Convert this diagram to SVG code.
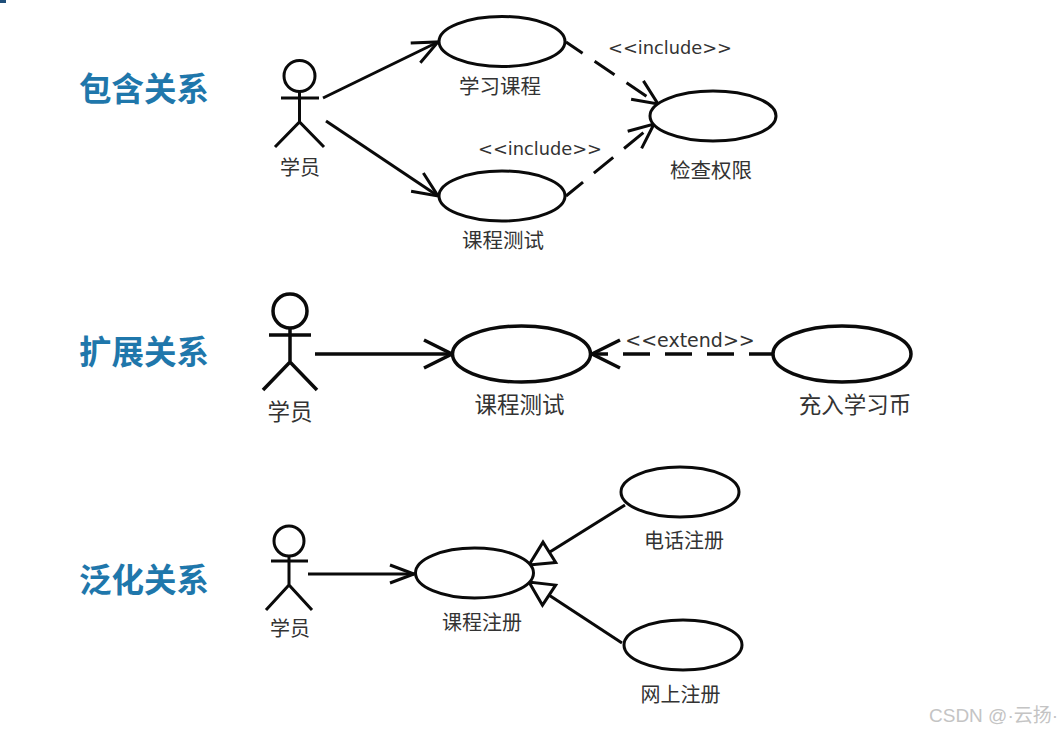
<svg xmlns="http://www.w3.org/2000/svg" width="1061" height="732" viewBox="0 0 1061 732">
<style>
text{font-family:"Noto Sans CJK SC","Noto Sans","DejaVu Sans",sans-serif;fill:#333;text-anchor:middle}
.t{font-size:32.500px;font-weight:700;fill:#1f77ab}
.l{font-size:20px}
.m{font-size:22.500px}
.s{font-family:"DejaVu Sans","Noto Sans CJK SC",sans-serif;font-size:17.800px}
.e{font-family:"DejaVu Sans","Noto Sans CJK SC",sans-serif;font-size:19px}
.uc{fill:#fff;stroke:#0a0a0a;stroke-width:3}
.a{fill:none;stroke:#0a0a0a;stroke-width:3}
.c{fill:none;stroke:#0a0a0a;stroke-width:3}
.w{font-family:"Liberation Sans","Noto Sans CJK SC",sans-serif;font-size:19px;fill:#c4c4c4;text-anchor:start}
.big .uc,.big .a,.big.c{stroke-width:3.500px}
</style>
<defs>
<marker id="open-l" markerUnits="userSpaceOnUse" markerWidth="34" markerHeight="34" refX="29" refY="15" orient="auto" overflow="visible">
<path d="M1 1L29 15L1 29" fill="none" stroke="#0a0a0a" stroke-width="3.500"/>
</marker>
<marker id="open-m" markerUnits="userSpaceOnUse" markerWidth="34" markerHeight="34" refX="29" refY="15" orient="auto" overflow="visible">
<path d="M4 4L29 15L4 26" fill="none" stroke="#0a0a0a" stroke-width="3"/>
</marker>
<marker id="open-s" markerUnits="userSpaceOnUse" markerWidth="34" markerHeight="34" refX="29" refY="15" orient="auto" overflow="visible">
<path d="M5 6L29 15L5 24" fill="none" stroke="#0a0a0a" stroke-width="3"/>
</marker>
<marker id="tri" markerUnits="userSpaceOnUse" markerWidth="34" markerHeight="34" refX="29" refY="15" orient="auto" overflow="visible">
<path d="M5 3L29 15L5 27Z" fill="#fff" stroke="#0a0a0a" stroke-width="3"/>
</marker>
</defs>
<rect width="1061" height="732" fill="#fff"/>
<rect x="0" y="0" width="6" height="3" fill="#1f4f7a"/>
<g id="connectors">
<path class="c" d="M323 98L438 42" marker-end="url(#open-m)"/>
<path class="c" d="M326 121L438 196" marker-end="url(#open-m)"/>
<path class="c" stroke-dasharray="20 14.500 24 14.500 24 14 30" d="M566 42L658 104" marker-end="url(#open-m)"/>
<path class="c" stroke-dasharray="22 14 25 14 25 12 30" d="M566 196L654 124" marker-end="url(#open-m)"/>
<path class="c big" d="M315 354L452 354" marker-end="url(#open-l)"/>
<path class="c big" stroke-dasharray="23 15 27 15 27 15 27 15 20" d="M772 354L592 354" marker-end="url(#open-l)"/>
<path class="c" d="M308 574L414 574" marker-end="url(#open-s)"/>
<path class="c" d="M625 505L529 565" marker-end="url(#tri)"/>
<path class="c" d="M622 643L529 582" marker-end="url(#tri)"/>
</g>
<g id="title-include"><text class="t" x="144" y="101">包含关系</text></g>
<g id="title-extend"><text class="t" x="144" y="364">扩展关系</text></g>
<g id="title-general"><text class="t" x="144" y="592">泛化关系</text></g>
<g id="actor-1">
<circle class="a" cx="299.500" cy="76" r="15.500"/>
<path class="a" d="M281 98H319M299.500 92V122M275 147L299.500 122L324 147"/>
<text class="l" x="300" y="175">学员</text>
</g>
<g id="usecase-study"><ellipse class="uc" cx="502" cy="41.500" rx="63" ry="25"/><text class="l" x="500" y="94" style="font-size:20.500px">学习课程</text></g>
<g id="usecase-test-1"><ellipse class="uc" cx="502" cy="196" rx="63" ry="25"/><text class="l" x="503" y="248" style="font-size:20.500px">课程测试</text></g>
<g id="usecase-check"><ellipse class="uc" cx="713" cy="116" rx="63" ry="25"/><text class="l" x="711" y="178" style="font-size:20.500px">检查权限</text></g>
<text class="s" x="670" y="54">&lt;&lt;include&gt;&gt;</text>
<text class="s" x="540" y="155">&lt;&lt;include&gt;&gt;</text>
<g id="actor-2" class="big">
<ellipse class="a" cx="290" cy="311" rx="17" ry="17"/>
<path class="a" d="M269 335H311M290 328V362M263 390L290 362L317 390"/>
<text class="m" x="290" y="420">学员</text>
</g>
<g id="usecase-test-2" class="big"><ellipse class="uc" cx="521.500" cy="354" rx="69" ry="28"/><text class="m" x="519.500" y="413">课程测试</text></g>
<g id="usecase-coin" class="big"><ellipse class="uc" cx="842" cy="354" rx="69" ry="28"/><text class="m" x="855" y="413">充入学习币</text></g>
<text class="e" x="690" y="347">&lt;&lt;extend&gt;&gt;</text>
<g id="actor-3">
<circle class="a" cx="289" cy="541" r="15"/>
<path class="a" d="M271 561H308M289 556V585M266 610L289 585L312 610"/>
<text class="l" x="290" y="636">学员</text>
</g>
<g id="usecase-reg"><ellipse class="uc" cx="474.500" cy="573" rx="59" ry="25"/><text class="l" x="482" y="630">课程注册</text></g>
<g id="usecase-phone"><ellipse class="uc" cx="680" cy="492" rx="59" ry="25"/><text class="l" x="684" y="548">电话注册</text></g>
<g id="usecase-web"><ellipse class="uc" cx="683" cy="645" rx="59" ry="25"/><text class="l" x="680.500" y="702">网上注册</text></g>
<text class="w" x="929" y="722">CSDN @·云扬·</text>
</svg>
